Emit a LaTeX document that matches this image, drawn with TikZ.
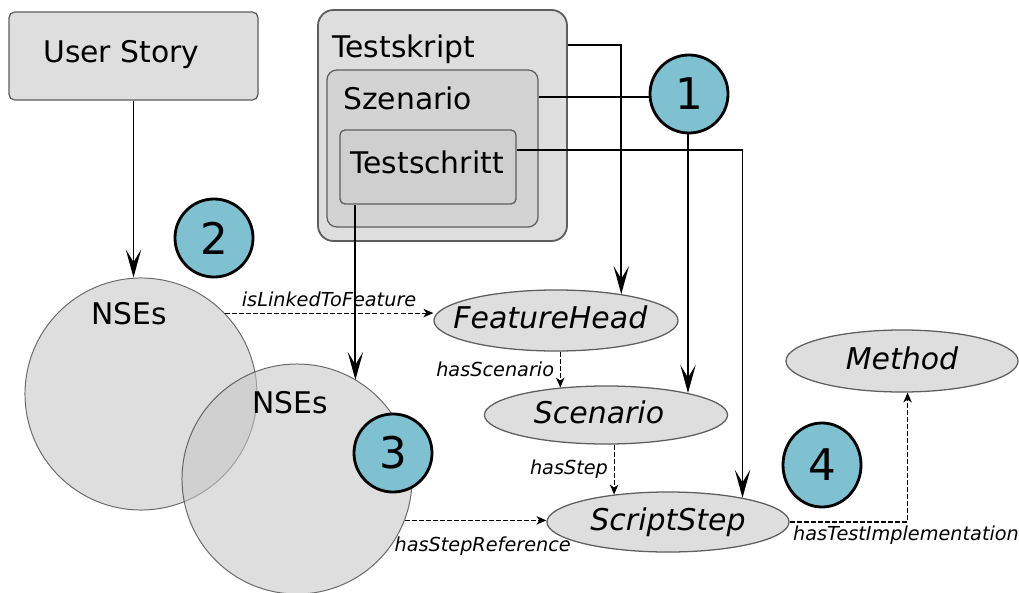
\documentclass[tikz,border=0pt]{standalone}
\usepackage{fontspec}
\setmainfont{DejaVu Sans}
\usetikzlibrary{arrows.meta,positioning,shapes.geometric,fit,calc}
\definecolor{boxgrey}{HTML}{DEDEDE}
\definecolor{midgrey}{HTML}{D3D3D3}
\definecolor{stepgrey}{HTML}{CFCFCF}
\definecolor{edgegrey}{HTML}{5E5E5E}
\definecolor{setgrey}{HTML}{C6C6C6}
\definecolor{badgeblue}{HTML}{80C1D1}

\begin{document}
\begin{tikzpicture}[
  x=0.025cm, y=-0.025cm,
  font=\fontsize{21.2}{25}\selectfont,
  container/.style={draw=edgegrey, fill=boxgrey, line width=0.9pt, rounded corners=4pt, inner sep=0pt},
  title/.style={inner sep=0pt, anchor=base west, font=\fontsize{21.2}{25}\selectfont},
  entity/.style={ellipse, draw=edgegrey, fill=boxgrey, line width=0.9pt, inner sep=0pt},
  elabel/.style={inner sep=0pt, yshift=-2.5pt, font=\fontsize{21.3}{25}\selectfont\itshape, text height=0.76em, text depth=0.12em},
  nseset/.style={circle, draw=black!80, fill=setgrey, fill opacity=0.58, draw opacity=0.7, line width=0.7pt, inner sep=0pt},
  badge/.style={circle, draw=black, line width=2pt, fill=badgeblue, minimum size=1.95cm, inner sep=0pt, font=\fontsize{31}{36}\selectfont},
  flow/.style={-{Stealth[length=20pt,width=11pt,inset=9pt]}, line width=1.3pt},
  relation/.style={-{Stealth[length=7pt,width=6pt,inset=2pt]}, dash pattern=on 3.5pt off 1.5pt, line width=0.8pt},
  rel/.style={font=\fontsize{13.7}{16}\selectfont\itshape, inner sep=2pt}
]
\useasboundingbox (0,0) rectangle (1019,592);

% containers
\node[container, fit={(9,12) (258,100)}] (userstory) {};
\node[container, rounded corners=11pt, line width=1.3pt, fit={(318,10) (567,241)}] (testskript) {};
\node[container, fill=midgrey, rounded corners=7pt, fit={(327,70) (538,227)}] (szenario) {};
\node[container, fill=stepgrey, rounded corners=3.5pt, fit={(340,130) (516,204)}] (testschritt) {};
\node[title] (ustext) at (43,62) {User Story};
\node[title] (tstext) at (332,57) {Testskript};
\node[title] (sztext) at (343,109) {Szenario};
\node[title] (tctext) at (350,173) {Testschritt};

% ontology classes
\node[entity, minimum width=6.1cm, minimum height=1.525cm, label={[elabel, xshift=-4pt]center:FeatureHead}] (featurehead) at (556,320.5) {};
\node[entity, minimum width=6.075cm, minimum height=1.45cm, label={[elabel, xshift=-5pt]center:Scenario}] (scenario) at (606,415) {};
\node[entity, minimum width=6.05cm, minimum height=1.5cm, label={[elabel]center:ScriptStep}] (scriptstep) at (668,522) {};
\node[entity, minimum width=5.8cm, minimum height=1.55cm, label={[elabel]center:Method}] (method) at (902,361) {};

% NSE sets
\node[nseset, minimum size=5.8cm] (nses1) at (141,394) {};
\node[nseset, minimum size=5.75cm] (nses2) at (297,479) {};
\node[title, anchor=base] (nsestext1) at (129,324) {NSEs};
\node[title, anchor=base] (nsestext2) at (290,413) {NSEs};

% mappings
\coordinate (tcfoot) at ([xshift=11.4pt]testschritt.south west);
\draw[flow] (userstory.south) -- (userstory.south |- nses1.north);
\draw[flow] ([yshift=-25.6pt]testskript.north east) -| (featurehead.22);
\draw[flow] ([yshift=-19.9pt]szenario.north east) -| (scenario.15);
\draw[flow] ([yshift=-14.9pt]testschritt.north east) -| (scriptstep.18);
\draw[flow] (tcfoot) -- (tcfoot |- nses2.59);

% relations
\draw[relation] (nses1.44) -- node[rel, above=2pt] {isLinkedToFeature} (nses1.44 -| featurehead.west);
\draw[relation] (featurehead.south -| scenario.149) -- node[rel, left=2pt] {hasScenario} (scenario.149);
\draw[relation] (scenario.south -| scriptstep.153) -- node[rel, left=2pt] {hasStep} (scriptstep.153);
\draw[relation] (nses2.-21) -- node[rel, below=9pt, pos=0.55] {hasStepReference} (nses2.-21 -| scriptstep.west);
\draw[relation] (scriptstep.east) -| node[rel, pos=0, anchor=north west] {hasTestImplementation} (method.-80);

% markers
\node[badge] (one) at (689,94) {1};
\node[badge] (two) at (214,238) {2};
\node[badge] (three) at (393,453) {3};
\node[badge, ellipse, minimum width=1.95cm, minimum height=2.1cm] (four) at (822,465) {4};
\end{tikzpicture}
\end{document}
